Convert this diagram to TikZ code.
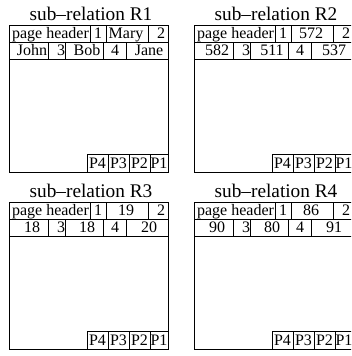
\documentclass[tikz,border=0pt]{standalone}
\usepackage{fontspec}
\setmainfont{Liberation Serif}
\begin{document}
\begin{tikzpicture}[x=1pt,y=-1pt,line width=0.75pt]
    \tikzstyle{every node}+=[inner sep=0pt,anchor=base]
    \tikzstyle{cell}=[font=\fontsize{16}{16}\selectfont]
    \tikzstyle{title}=[font=\fontsize{19.3}{20}\selectfont]
    \clip (0,0) rectangle (351,356);
    \foreach \px/\py/\r/\va/\vb/\vc/\vd in {9/25/1/Mary/John/Bob/Jane,
        194/25/2/572/582/511/537, 9/202/3/19/18/18/20, 194/202/4/86/90/80/91} {
    \begin{scope}[shift={(\px,\py)}]
    \node [title] (t\r) at (82,-5) {sub–relation R\r};
    \draw [black] (0,0) rectangle (159,147);
    \draw [black] (0,17) -- (159,17);
    \draw [black] (0,34) -- (159,34);
    \foreach \x in {81,97,139} \draw [black] (\x,0) -- (\x,17);
    \foreach \x in {39.5,56.5,94,117} \draw [black] (\x,17) -- (\x,34);
    \draw [black] (78,147) -- (78,129) -- (159,129);
    \foreach \x in {99,120,141} \draw [black] (\x,129) -- (\x,147);
    % header row
    \node [cell] (ph\r) at (41.5,13) {page header};
    \node [cell] (ha\r) at (89,13) {1};
    \node [cell] (hv\r) at (117,13) {\va};
    \node [cell] (hb\r) at (152,13) {2};
    % first tuples
    \node [cell] (ra\r) at (23,30) {\vb};
    \node [cell] (rb\r) at (52,30) {3};
    \node [cell] (rc\r) at (78,30) {\vc};
    \node [cell] (rd\r) at (106,30) {4};
    \node [cell] (re\r) at (140,30) {\vd};
    % slot pointers
    \node [cell] (p4\r) at (88.5,143.5) {P4};
    \node [cell] (p3\r) at (109.5,143.5) {P3};
    \node [cell] (p2\r) at (130.5,143.5) {P2};
    \node [cell] (p1\r) at (150,143.5) {P1};
    \end{scope}
    }
\end{tikzpicture}
\end{document}
